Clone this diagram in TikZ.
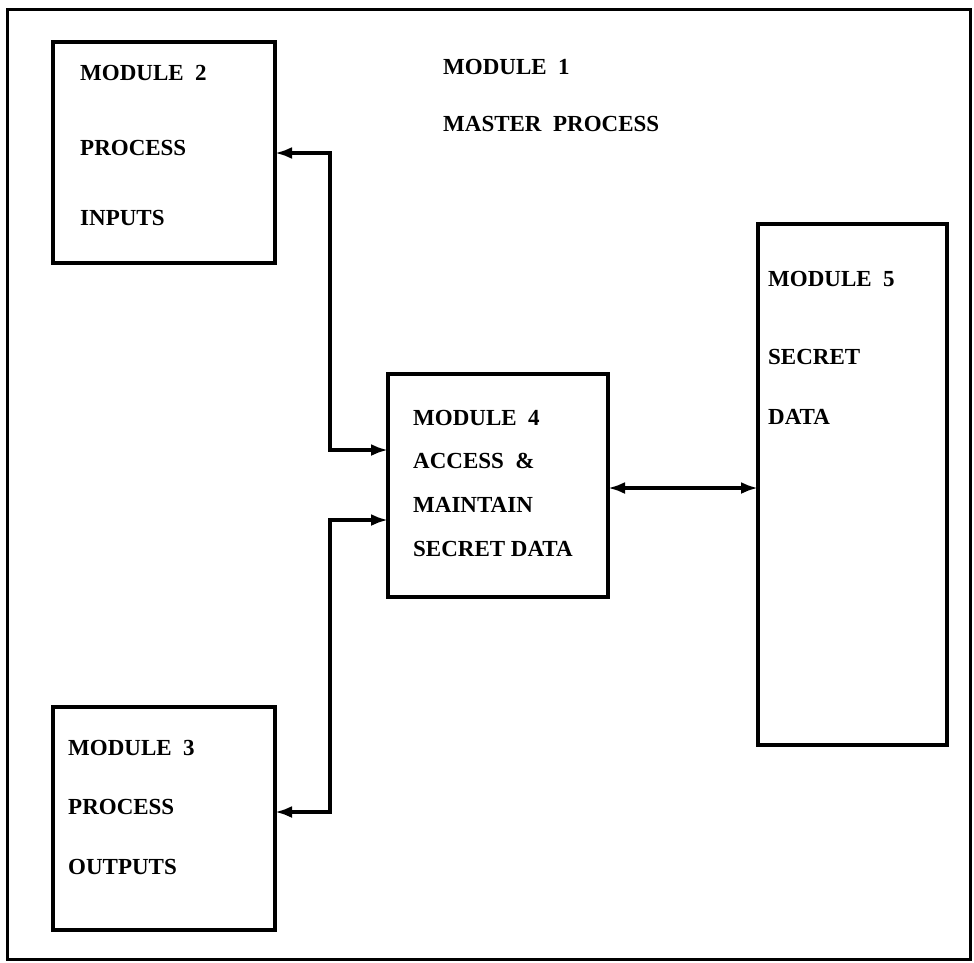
\documentclass[tikz,border=0pt]{standalone}
\usepackage{fontspec}
\setmainfont{Liberation Serif}
\usetikzlibrary{arrows.meta,positioning}
\tikzset{
  frame/.style  = {draw, line width=3pt, inner sep=0pt},
  modbox/.style = {draw, line width=3.4pt, inner sep=0pt, outer sep=0pt},
  lbl/.style    = {anchor=base west, inner sep=0pt,
                   font=\fontsize{23}{25}\selectfont\bfseries},
  link/.style   = {line width=3.6pt,
                   {Latex[length=17pt,width=12pt]}-{Latex[length=17pt,width=12pt]}},
}

\begin{document}
\begin{tikzpicture}[x=1pt,y=-1pt]
  \useasboundingbox (0,0) rectangle (974,962);
  % outer frame = module 1
  \node[frame, minimum width=963pt, minimum height=950pt] (m1) at (488.5,484) {};
  \node[lbl] (t1a) at (443,74)  {MODULE~~1};
  \node[lbl] (t1b) at (443,131) {MASTER~~PROCESS};
  % modules
  \node[modbox, minimum width=222pt, minimum height=221pt] (m2) at (164,152.5) {};
  \node[modbox, minimum width=222pt, minimum height=223pt] (m3) at (164,818.5) {};
  \node[modbox, minimum width=220pt, minimum height=223pt] (m4) at (498,485.5) {};
  \node[modbox, minimum width=189pt, minimum height=521pt] (m5) at (852.5,484.5) {};
  \foreach \y/\txt [count=\k] in {80/{MODULE~~2},155/PROCESS,225/INPUTS}{
    \node[lbl] (t2-\k) at (80,\y) {\txt};}
  \foreach \y/\txt [count=\k] in {755/{MODULE~~3},814/PROCESS,874/OUTPUTS}{
    \node[lbl] (t3-\k) at (68,\y) {\txt};}
  \foreach \y/\txt [count=\k] in {425/{MODULE~~4},468/{ACCESS~~\&},512/MAINTAIN,556/{SECRET~DATA}}{
    \node[lbl] (t4-\k) at (413,\y) {\txt};}
  \foreach \y/\txt [count=\k] in {286/{MODULE~~5},364/SECRET,424/DATA}{
    \node[lbl] (t5-\k) at (768,\y) {\txt};}
  % connectors
  \coordinate (b2)  at (330,153);
  \coordinate (b4a) at (330,450);
  \coordinate (b3)  at (330,812);
  \coordinate (b4b) at (330,520);
  \coordinate (b45) at (680,488);
  \draw[link] (m2.east |- b2) -- (b2) -- (b4a) -- (m4.west |- b4a);
  \draw[link] (m3.east |- b3) -- (b3) -- (b4b) -- (m4.west |- b4b);
  \draw[link] (m4.east |- b45) -- (m5.west |- b45);
\end{tikzpicture}
\end{document}
